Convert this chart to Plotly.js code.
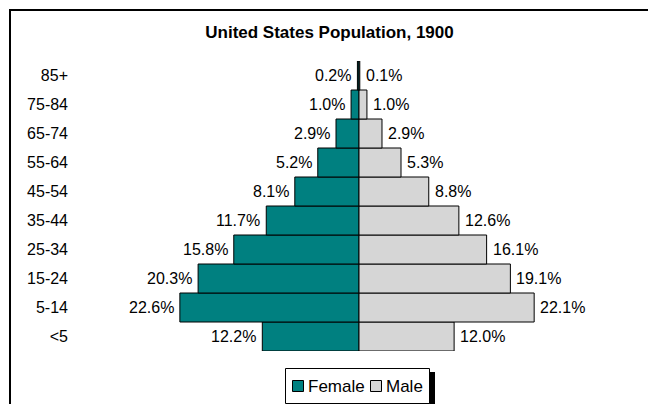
<!DOCTYPE html>
<html>
<head>
<meta charset="utf-8">
<script src="https://cdn.plot.ly/plotly-3.0.1.min.js"></script>
<style>
  html, body { margin: 0; padding: 0; background: #ffffff; }
  #chart { width: 648px; height: 404px; }
</style>
</head>
<body>
<div id="chart"></div>
<script>
// ---- Data ----
const ageGroups = ['<5', '5-14', '15-24', '25-34', '35-44', '45-54', '55-64', '65-74', '75-84', '85+'];
const femalePct = [12.2, 22.6, 20.3, 15.8, 11.7, 8.1, 5.2, 2.9, 1.0, 0.2];
const malePct   = [12.0, 22.1, 19.1, 16.1, 12.6, 8.8, 5.3, 2.9, 1.0, 0.1];
const seriesNames = ['Female', 'Male'];
const chartTitle = 'United States Population, 1900';

// ---- Layout geometry ----
const W = 648, H = 404;
const M = { l: 80, r: 10, t: 61, b: 53 };
const PW = W - M.l - M.r, PH = H - M.t - M.b;
const R = 35.2;
const px = x => (x - M.l) / PW;           // pixel x -> paper
const py = y => (H - M.b - y) / PH;       // pixel y -> paper

const FONT = 'Liberation Sans, Arial, sans-serif';
const TEAL = '#008080';
const GREY = '#d6d6d6';

const traces = [
  {
    type: 'bar', orientation: 'h', name: seriesNames[0],
    y: ageGroups, x: femalePct.map(v => -v),
    marker: { color: TEAL, line: { color: '#000000', width: 1 } },
    hoverinfo: 'skip', showlegend: false
  },
  {
    type: 'bar', orientation: 'h', name: seriesNames[1],
    y: ageGroups, x: malePct,
    marker: { color: GREY, line: { color: '#000000', width: 1 } },
    hoverinfo: 'skip', showlegend: false
  }
];

const annotations = [];
ageGroups.forEach((g, i) => {
  annotations.push({
    x: -femalePct[i], y: g, xref: 'x', yref: 'y',
    text: femalePct[i].toFixed(1) + '%', showarrow: false,
    xanchor: 'right', yanchor: 'middle', xshift: -4,
    font: { family: FONT, size: 16, color: '#000' }
  });
  annotations.push({
    x: malePct[i], y: g, xref: 'x', yref: 'y',
    text: malePct[i].toFixed(1) + '%', showarrow: false,
    xanchor: 'left', yanchor: 'middle', xshift: 4,
    font: { family: FONT, size: 16, color: '#000' }
  });
});

// custom legend texts
annotations.push({
  x: px(305.5), y: py(386), xref: 'paper', yref: 'paper',
  text: seriesNames[0], showarrow: false, xanchor: 'left', yanchor: 'middle',
  font: { family: FONT, size: 17, color: '#000' }
});
annotations.push({
  x: px(383.5), y: py(386), xref: 'paper', yref: 'paper',
  text: seriesNames[1], showarrow: false, xanchor: 'left', yanchor: 'middle',
  font: { family: FONT, size: 17, color: '#000' }
});

const shapes = [
  // chart border (top and left)
  { type: 'line', xref: 'paper', yref: 'paper', x0: px(9), x1: px(660), y0: py(10), y1: py(10),
    line: { color: '#000', width: 2 } },
  { type: 'line', xref: 'paper', yref: 'paper', x0: px(10), x1: px(10), y0: py(9), y1: py(420),
    line: { color: '#000', width: 2 } },
  // legend shadow + box
  { type: 'rect', xref: 'paper', yref: 'paper', x0: px(290), x1: px(435), y0: py(372), y1: py(420),
    fillcolor: '#000', line: { width: 0 } },
  { type: 'rect', xref: 'paper', yref: 'paper', x0: px(285.5), x1: px(429.5), y0: py(368.5), y1: py(403.5),
    fillcolor: '#fff', line: { color: '#000', width: 1 } },
  // legend swatches
  { type: 'rect', xref: 'paper', yref: 'paper', x0: px(292.5), x1: px(303.5), y0: py(380.5), y1: py(391.5),
    fillcolor: TEAL, line: { color: '#000', width: 1 } },
  { type: 'rect', xref: 'paper', yref: 'paper', x0: px(370.5), x1: px(381.5), y0: py(380.5), y1: py(391.5),
    fillcolor: GREY, line: { color: '#000', width: 1 } }
];

const layout = {
  width: W, height: H,
  margin: M,
  paper_bgcolor: '#ffffff', plot_bgcolor: '#ffffff',
  font: { family: FONT, size: 16, color: '#000' },
  title: {
    text: '<b>' + chartTitle + '</b>',
    font: { family: FONT, size: 17, color: '#000' },
    x: 329.5 / W, xanchor: 'center', xref: 'container',
    y: 1 - 32 / H, yanchor: 'middle', yref: 'container'
  },
  barmode: 'relative', bargap: 0,
  showlegend: false,
  xaxis: {
    range: [-R, R], showgrid: false, zeroline: false, showline: false,
    showticklabels: false, ticks: '', fixedrange: true
  },
  yaxis: {
    type: 'category', categoryorder: 'array', categoryarray: ageGroups,
    range: [-0.5, ageGroups.length - 0.5],
    showgrid: false, zeroline: false, showline: false, ticks: '',
    ticklabelstandoff: 11,
    tickfont: { family: FONT, size: 16, color: '#000' }, fixedrange: true
  },
  annotations: annotations,
  shapes: shapes
};

Plotly.newPlot('chart', traces, layout, { displayModeBar: false, staticPlot: true });
</script>
</body>
</html>
